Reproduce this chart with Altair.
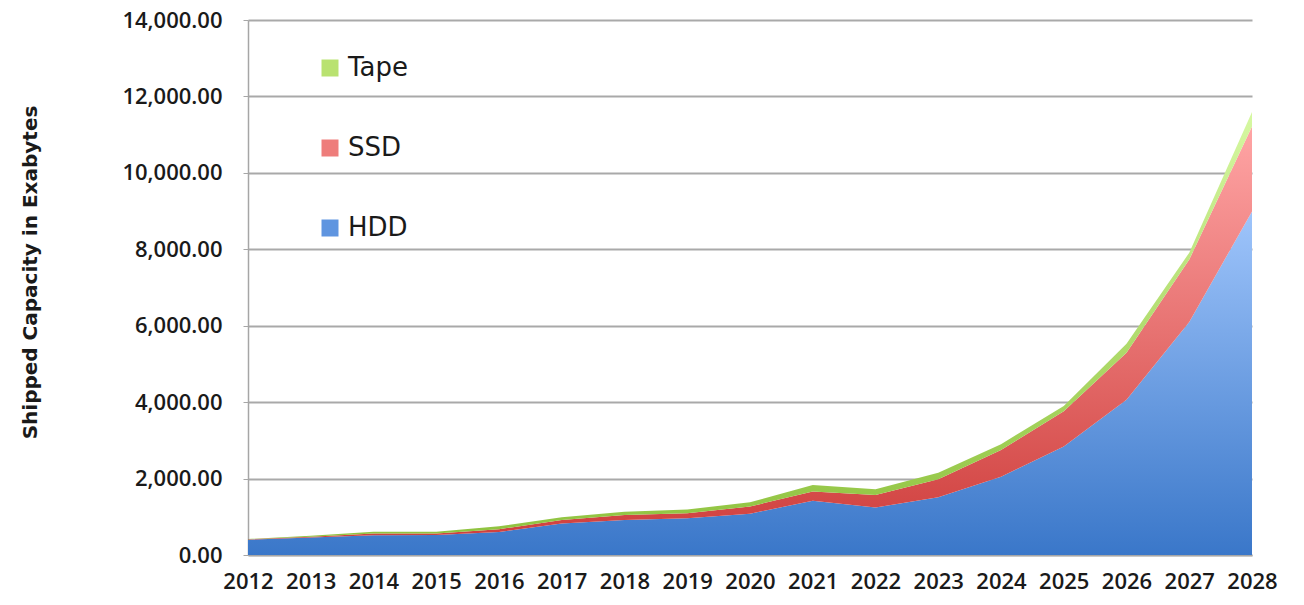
import altair as alt
import pandas as pd

years = list(range(2012, 2029))
hdd = [400, 455, 520, 525, 600, 825, 915, 960, 1080, 1420, 1240, 1510, 2050, 2840, 4060, 6100, 8990]
ssd = [10, 20, 40, 40, 75, 90, 130, 130, 190, 240, 330, 470, 700, 920, 1230, 1630, 2220]
tape = [10, 30, 50, 45, 75, 70, 85, 100, 110, 170, 150, 170, 150, 140, 240, 180, 380]
series_names = ["HDD", "SSD", "Tape"]
legend_order = ["Tape", "SSD", "HDD"]
y_ticks = [0, 2000, 4000, 6000, 8000, 10000, 12000, 14000]

rows = []
for i, y in enumerate(years):
    for k, (name, vals) in enumerate(zip(series_names, [hdd, ssd, tape])):
        rows.append({"year": y, "series": name, "order": k, "value": vals[i]})
df = pd.DataFrame(rows)

gradients = {
    "HDD": [("#9fc5fb", 0), ("#3a77c9", 1)],
    "SSD": [("#ffa5a5", 0), ("#cf3f3d", 1)],
    "Tape": [("#d6f8a2", 0), ("#8fc23e", 1)],
}
solid = {"Tape": "#b9e270", "SSD": "#ee7d7b", "HDD": "#5f95e0"}

base = alt.Chart(df).transform_stack(
    stack="value", groupby=["year"], as_=["y0", "y1"],
    sort=[alt.SortField("order", order="ascending")],
)

x_enc = alt.X("year:Q", scale=alt.Scale(domain=[years[0], years[-1]], nice=False, zero=False),
              axis=alt.Axis(values=years, format="d", title=None, grid=False, tickSize=0,
                            labelPadding=16, labelFontSize=22, labelFlush=False,
                            labelFont="Open Sans", labelFontWeight=600,
                            domainColor="#a6a6a6", domainWidth=1.5))
y_enc = alt.Y("y1:Q", scale=alt.Scale(domain=[0, 14000], nice=False),
              axis=alt.Axis(values=y_ticks, format=",.2f", title="Shipped Capacity in Exabytes",
                            grid=True, gridColor="#a9a9a9", gridWidth=2,
                            tickSize=5, tickColor="#a6a6a6", labelPadding=21, labelFontSize=22,
                            labelFont="Open Sans", labelFontWeight=600,
                            domainColor="#a6a6a6", domainWidth=1.5,
                            titleX=-218, titleY=252, titleAngle=270, titleAlign="center",
                            titleBaseline="middle", titleFontSize=20, titleFontWeight="bold",
                            titleFont="DejaVu Sans", titleColor="#1a1a1a"))

layers = []
for name in series_names:
    stops = [alt.GradientStop(color=c, offset=o) for c, o in gradients[name]]
    grad = alt.LinearGradient(gradient="linear", stops=stops, x1=0, x2=0, y1=0, y2=1)
    layers.append(
        base.transform_filter(alt.datum.series == name)
        .mark_area(fill=grad, strokeWidth=0)
        .encode(x=x_enc, y=y_enc, y2=alt.Y2("y0:Q"))
    )

legend_layer = alt.Chart(df).mark_square(size=0, opacity=0).encode(
    x=alt.X("year:Q"),
    y=alt.Y("value:Q"),
    color=alt.Color("series:N",
                    scale=alt.Scale(domain=legend_order, range=[solid[s] for s in legend_order]),
                    legend=alt.Legend(title=None, orient="none", legendX=69, legendY=35,
                                      symbolType="square", symbolSize=289, symbolOpacity=1,
                                      symbolStrokeWidth=0, labelFontSize=26, labelOffset=5,
                                      rowPadding=54, labelColor="#1a1a1a",
                                      labelFont="DejaVu Sans")),
)

chart = alt.layer(*layers, legend_layer).properties(
    width=1004, height=535,
    autosize=alt.AutoSizeParams(type="none"),
    padding={"left": 248, "top": 20, "right": 52, "bottom": 50},
    background="white",
).configure_view(strokeWidth=0).configure_axis(
    labelColor="#1a1a1a",
)

chart.save("out.html", embed_options={"renderer": "svg", "actions": False})
